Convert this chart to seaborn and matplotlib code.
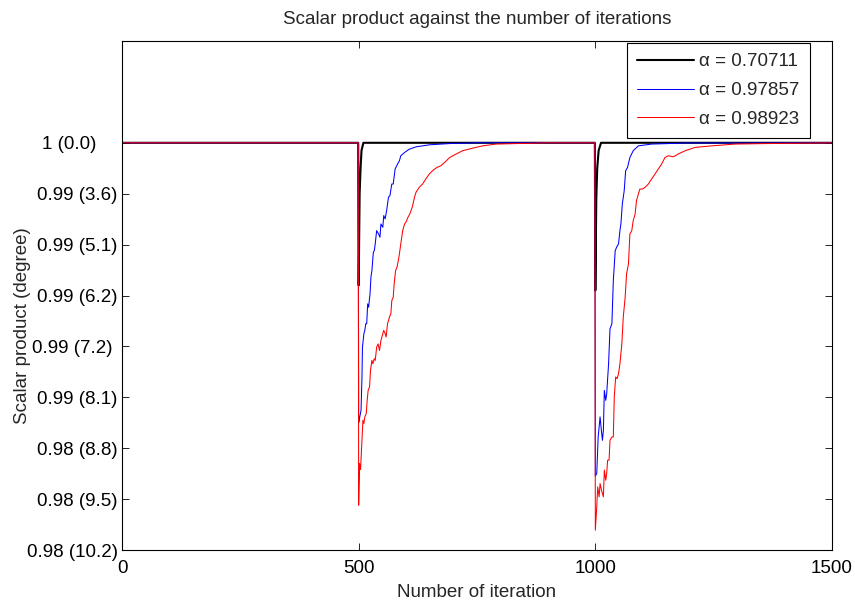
import numpy as np
import pandas as pd
import matplotlib
matplotlib.use("Agg")
import matplotlib.pyplot as plt
import seaborn as sns

# ---------------- data ----------------
legend_labels = ["\u03b1 = 0.70711", "\u03b1 = 0.97857", "\u03b1 = 0.98923"]

black_iter = [0, 499, 500, 502, 504, 506, 510, 999, 1000, 1002, 1004, 1007, 1012, 1500]
black_val = [1.0, 1.0, 0.99440, 0.99800, 0.99900, 0.99970, 1.0,
             1.0, 0.99420, 0.99780, 0.99900, 0.99970, 1.0, 1.0]

blue_iter = [0, 499, 500, 501, 505, 507, 508, 511, 513, 515, 517, 519, 521, 524, 526,
             528, 531, 533, 535, 538, 542, 545, 547, 551, 553, 556, 559, 563, 566, 570,
             573, 577, 582, 586, 589, 597, 607, 621, 649, 692, 750, 999,
             1000, 1003, 1006, 1010, 1012, 1015, 1017, 1019, 1022, 1024, 1028, 1031,
             1035, 1038, 1042, 1045, 1049, 1052, 1054, 1057, 1061, 1064, 1068, 1073,
             1080, 1091, 1119, 1190, 1500]
blue_val = [1.0, 1.0, 0.98900, 0.98910, 0.98949, 0.99080, 0.99197, 0.99250, 0.99263,
            0.99289, 0.99289, 0.99367, 0.99354, 0.99406, 0.99474, 0.99498, 0.99570,
            0.99576, 0.99603, 0.99655, 0.99642, 0.99629, 0.99681, 0.99668, 0.99714,
            0.99701, 0.99733, 0.99786, 0.99792, 0.99838, 0.99838, 0.99897, 0.99916,
            0.99929, 0.99949, 0.99962, 0.99975, 0.99984, 0.99992, 0.99997, 1.0, 1.0,
            0.98690, 0.98701, 0.98844, 0.98923, 0.98884, 0.98831, 0.98870, 0.99027,
            0.98988, 0.99014, 0.99132, 0.99269, 0.99289, 0.99459, 0.99576, 0.99590,
            0.99603, 0.99655, 0.99681, 0.99759, 0.99812, 0.99890, 0.99903, 0.99942,
            0.99969, 0.99988, 0.99995, 0.99999, 1.0]

red_iter = [0, 499, 500, 502, 504, 506, 509, 511, 513, 516, 518, 520, 523, 525, 528,
            530, 533, 535, 538, 541, 544, 547, 549, 553, 556, 558, 561, 565, 568, 570,
            573, 575, 578, 581, 585, 587, 589, 593, 597, 600, 604, 608, 613, 618, 621,
            628, 635, 642, 649, 656, 665, 674, 685, 692, 706, 720, 741, 762, 790, 832,
            900, 999,
            1000, 1003, 1005, 1008, 1010, 1013, 1017, 1019, 1022, 1024, 1026, 1029,
            1031, 1035, 1038, 1040, 1043, 1046, 1049, 1052, 1056, 1059, 1063, 1066,
            1070, 1073, 1077, 1080, 1084, 1087, 1091, 1094, 1099, 1105, 1112, 1119,
            1126, 1133, 1140, 1147, 1154, 1165, 1175, 1190, 1211, 1246, 1295, 1359, 1500]
red_val = [1.0, 1.0, 0.98576, 0.98740, 0.98716, 0.98792, 0.98910, 0.98897, 0.98923,
           0.98936, 0.98988, 0.99027, 0.99041, 0.99106, 0.99145, 0.99132, 0.99152,
           0.99145, 0.99197, 0.99210, 0.99184, 0.99223, 0.99237, 0.99263, 0.99250,
           0.99237, 0.99289, 0.99315, 0.99328, 0.99380, 0.99393, 0.99446, 0.99498,
           0.99511, 0.99550, 0.99576, 0.99603, 0.99655, 0.99681, 0.99688, 0.99707,
           0.99720, 0.99746, 0.99786, 0.99805, 0.99825, 0.99838, 0.99858, 0.99877,
           0.99890, 0.99903, 0.99910, 0.99929, 0.99942, 0.99956, 0.99969, 0.99979,
           0.99988, 0.99995, 0.99997, 1.0, 1.0,
           0.98478, 0.98570, 0.98648, 0.98609, 0.98661, 0.98635, 0.98609, 0.98714,
           0.98674, 0.98701, 0.98753, 0.98753, 0.98831, 0.98844, 0.98844, 0.99001,
           0.99080, 0.99073, 0.99093, 0.99132, 0.99210, 0.99315, 0.99393, 0.99485,
           0.99524, 0.99642, 0.99655, 0.99694, 0.99720, 0.99773, 0.99799, 0.99818,
           0.99818, 0.99825, 0.99838, 0.99858, 0.99877, 0.99897, 0.99916, 0.99942,
           0.99949, 0.99945, 0.99956, 0.99969, 0.99982, 0.99988, 0.99995, 0.99997, 1.0]

ytick_vals = [1.000, 0.998, 0.996, 0.994, 0.992, 0.990, 0.988, 0.986, 0.984]
ytick_labels = ["1 (0.0)    ", "0.99 (3.6)", "0.99 (5.1)", "0.99 (6.2)", "0.99 (7.2) ",
                "0.99 (8.1)", "0.98 (8.8)", "0.98 (9.5)", "0.98 (10.2)"]
xtick_vals = [0, 500, 1000, 1500]

# ---------------- plotting ----------------
sns.set_theme(style="white")
plt.rcParams["font.family"] = ["Liberation Sans", "DejaVu Sans"]
FS = 13.5

fig = plt.figure(figsize=(8.55, 6.04), dpi=100)
ax = fig.add_axes([122 / 855, 54 / 604, 710 / 855, 509 / 604])

series = [
    (black_iter, black_val, "black", 1.5, legend_labels[0]),
    (blue_iter, blue_val, "#0000ff", 0.75, legend_labels[1]),
    (red_iter, red_val, "#ff0000", 0.75, legend_labels[2]),
]
for xs, ys, col, lw, lab in series:
    df = pd.DataFrame({"iter": xs, "val": ys})
    sns.lineplot(data=df, x="iter", y="val", ax=ax, color=col, lw=lw, label=lab,
                 estimator=None, sort=False)

ax.set_xlim(0, 1500)
ax.set_ylim(0.984, 1.004)
ax.set_xticks(xtick_vals)
ax.set_xticklabels([str(v) for v in xtick_vals], fontsize=FS)
ax.set_yticks(ytick_vals)
ax.set_yticklabels(ytick_labels, fontsize=FS)
ax.tick_params(direction="in", length=5, width=0.6, top=True, right=True,
               bottom=True, left=True, colors="black", pad=3)
ax.tick_params(axis="x", pad=7)
for s in ax.spines.values():
    s.set_color("black")
    s.set_linewidth(0.8)

ax.set_xlabel("Number of iteration", fontsize=FS, labelpad=5)
ax.set_ylabel("Scalar product (degree)", fontsize=FS)
ax.yaxis.set_label_coords(-(122 - 23) / 710, 0.44)
ax.yaxis.label.set_verticalalignment("center")
ax.set_title("Scalar product against the number of iterations", fontsize=FS, pad=12)

leg = ax.legend(loc="upper right", bbox_to_anchor=(0.969, 0.996), borderaxespad=0,
                fontsize=FS, frameon=True, fancybox=False, edgecolor="black",
                framealpha=1, handlelength=3.0, handletextpad=0.3,
                labelspacing=0.62, borderpad=0.55)
leg.get_frame().set_linewidth(0.8)

fig.savefig("out.png", dpi=100)
